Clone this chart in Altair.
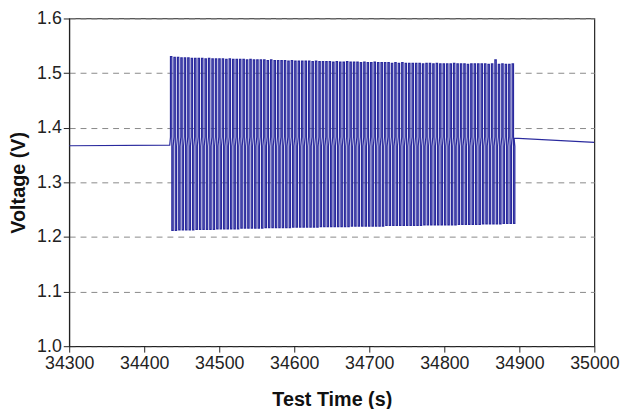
import altair as alt
import pandas as pd

# Flat segments before and after the pulse train (time s, voltage V)
pre_t = [34300.0, 34434.0]
pre_v = [1.367, 1.368]
post_t = [34893.0, 35000.0]
post_v = [1.381, 1.373]

# Pulse train: start time of each cycle (s)
cycle_t = [
    34435.0, 34439.6, 34444.2, 34448.8, 34453.4, 34458.0, 34462.6, 34467.2, 34471.8, 34476.4,
    34481.0, 34485.6, 34490.2, 34494.8, 34499.4, 34504.0, 34508.6, 34513.2, 34517.8, 34522.4,
    34527.0, 34531.6, 34536.2, 34540.8, 34545.4, 34550.0, 34554.6, 34559.2, 34563.8, 34568.4,
    34573.0, 34577.6, 34582.2, 34586.8, 34591.4, 34596.0, 34600.6, 34605.2, 34609.8, 34614.4,
    34619.0, 34623.6, 34628.2, 34632.8, 34637.4, 34642.0, 34646.6, 34651.2, 34655.8, 34660.4,
    34665.0, 34669.6, 34674.2, 34678.8, 34683.4, 34688.0, 34692.6, 34697.2, 34701.8, 34706.4,
    34711.0, 34715.6, 34720.2, 34724.8, 34729.4, 34734.0, 34738.6, 34743.2, 34747.8, 34752.4,
    34757.0, 34761.6, 34766.2, 34770.8, 34775.4, 34780.0, 34784.6, 34789.2, 34793.8, 34798.4,
    34803.0, 34807.6, 34812.2, 34816.8, 34821.4, 34826.0, 34830.6, 34835.2, 34839.8, 34844.4,
    34849.0, 34853.6, 34858.2, 34862.8, 34867.4, 34872.0, 34876.6, 34881.2, 34885.8, 34890.4,
]
# Peak (charge pulse) voltage of each cycle
peak_v = [
    1.530, 1.529, 1.529, 1.528, 1.528, 1.528, 1.527, 1.527, 1.527, 1.527,
    1.526, 1.527, 1.526, 1.526, 1.526, 1.526, 1.525, 1.526, 1.525, 1.525,
    1.525, 1.525, 1.524, 1.525, 1.524, 1.524, 1.524, 1.524, 1.523, 1.524,
    1.523, 1.523, 1.523, 1.523, 1.522, 1.523, 1.522, 1.522, 1.522, 1.522,
    1.522, 1.521, 1.522, 1.521, 1.521, 1.521, 1.521, 1.520, 1.521, 1.520,
    1.520, 1.521, 1.520, 1.520, 1.520, 1.519, 1.520, 1.519, 1.519, 1.520,
    1.519, 1.519, 1.519, 1.519, 1.518, 1.519, 1.518, 1.519, 1.518, 1.518,
    1.518, 1.518, 1.518, 1.517, 1.518, 1.518, 1.517, 1.518, 1.517, 1.517,
    1.517, 1.517, 1.518, 1.517, 1.517, 1.517, 1.516, 1.517, 1.517, 1.517,
    1.517, 1.517, 1.516, 1.517, 1.524, 1.516, 1.517, 1.516, 1.516, 1.517,
]
# Trough (discharge pulse) voltage of each cycle
trough_v = [
    1.212, 1.212, 1.213, 1.213, 1.213, 1.213, 1.213, 1.214, 1.214, 1.214,
    1.214, 1.214, 1.214, 1.215, 1.215, 1.215, 1.215, 1.215, 1.215, 1.215,
    1.216, 1.216, 1.216, 1.216, 1.216, 1.216, 1.216, 1.217, 1.217, 1.217,
    1.217, 1.217, 1.217, 1.217, 1.217, 1.218, 1.218, 1.218, 1.218, 1.218,
    1.218, 1.218, 1.218, 1.219, 1.219, 1.219, 1.219, 1.219, 1.219, 1.219,
    1.219, 1.219, 1.220, 1.220, 1.220, 1.220, 1.220, 1.220, 1.220, 1.220,
    1.220, 1.220, 1.221, 1.221, 1.221, 1.221, 1.221, 1.221, 1.221, 1.221,
    1.221, 1.221, 1.221, 1.222, 1.222, 1.222, 1.222, 1.222, 1.222, 1.222,
    1.222, 1.222, 1.222, 1.223, 1.223, 1.223, 1.223, 1.223, 1.223, 1.223,
    1.224, 1.224, 1.224, 1.224, 1.224, 1.224, 1.225, 1.225, 1.225, 1.225,
]
# Rest voltage levels between pulses
rest_hi = 1.383
rest_lo = 1.366
# Pulse lengths (s)
up_len = 1.8
down_len = 1.8

rows = []
for t, v in zip(pre_t, pre_v):
    rows.append((t, v))
for t, p, q in zip(cycle_t, peak_v, trough_v):
    rows += [(t, rest_hi), (t, p), (t + up_len, p), (t + up_len, q),
             (t + up_len + down_len, q), (t + up_len + down_len, rest_lo)]
for t, v in zip(post_t, post_v):
    rows.append((t, v))

df = pd.DataFrame(rows, columns=["time", "voltage"])
df["i"] = range(len(df))

x_ticks = [34300, 34400, 34500, 34600, 34700, 34800, 34900, 35000]
y_ticks = [1.0, 1.1, 1.2, 1.3, 1.4, 1.5, 1.6]

font = "Liberation Sans"

chart = alt.Chart(df).mark_line(color="#2a2a9e", strokeWidth=1.25, clip=True).encode(
    x=alt.X("time:Q", scale=alt.Scale(domain=[34300, 35000], nice=False, zero=False),
            axis=alt.Axis(values=x_ticks, format="d", title="Test Time (s)", grid=False,
                          tickSize=6, labelPadding=3, titlePadding=17,
                          labelFlush=False, labelOverlap=False)),
    y=alt.Y("voltage:Q", scale=alt.Scale(domain=[1.0, 1.6], nice=False, zero=False),
            axis=alt.Axis(values=y_ticks, format=".1f", title="Voltage (V)",
                          tickSize=6, labelPadding=2, titlePadding=8,
                          labelFlush=False, labelOverlap=False,
                          grid=True, gridDash=[6, 5], gridColor="#888888",
                          gridWidth=1)),
    order="i:Q",
).properties(
    width=532, height=332,
    autosize=alt.AutoSizeParams(type="none"),
    padding={"left": 62, "top": 8, "right": 28, "bottom": 61},
).configure_view(
    stroke="#222222", strokeWidth=1.2,
).configure_axis(
    domainColor="#222222", tickColor="#222222", labelColor="#222222",
    titleColor="#111111", labelFont=font, titleFont=font,
    labelFontSize=18, titleFontSize=20, titleFontWeight="bold",
    labelFontWeight="normal",
)

chart.save("out.html", embed_options={"renderer": "svg", "actions": False})
